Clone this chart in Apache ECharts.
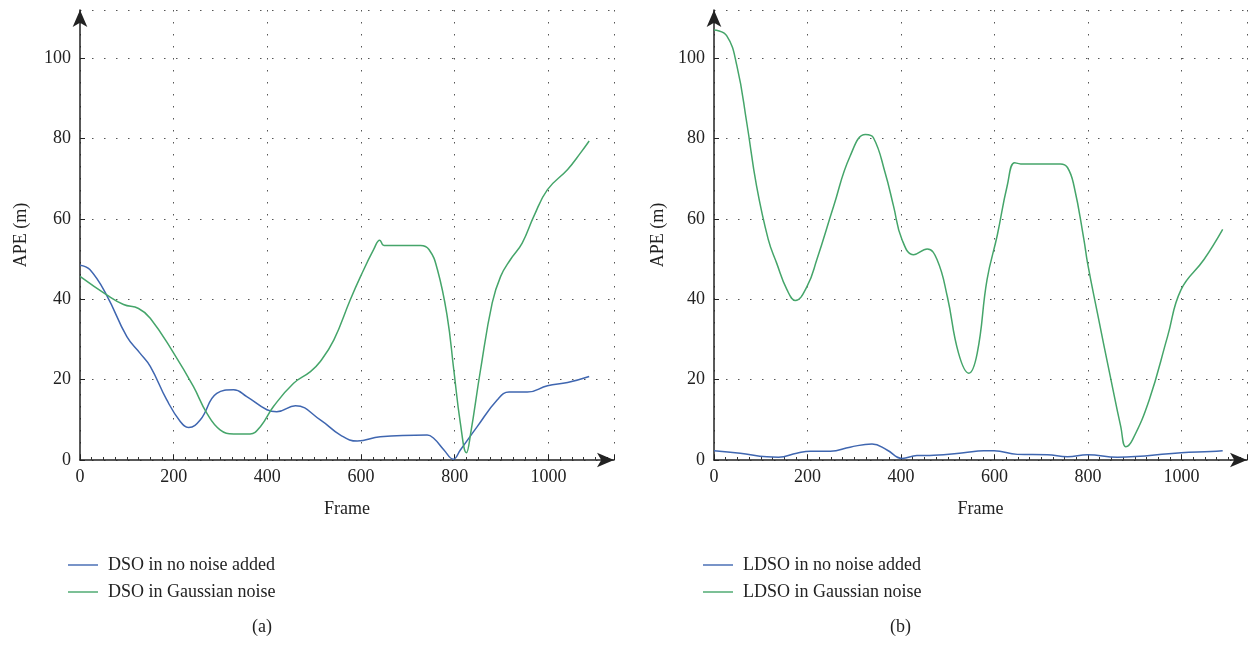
<!DOCTYPE html>
<html>
<head>
<meta charset="utf-8">
<script src="https://cdn.jsdelivr.net/npm/echarts@6/dist/echarts.min.js"></script>
<style>
  html, body { margin: 0; padding: 0; background: #fff; }
  #main { width: 1252px; height: 645px; }
</style>
</head>
<body>
<div id="main"></div>
<script>
// (a) DSO: [frame, APE]
var dsoClean = [[0, 48.5], [21, 47.4], [57, 41], [100, 30.7], [128, 26.6], [150, 23.3], [185, 15], [214, 9.6], [232, 8.1],
    [257, 10], [292, 16.6], [328, 17.5], [356, 15.8], [399, 12.5], [420, 12], [460, 13.5], [513, 10], [556, 6.2],
    [592, 4.7], [641, 5.8], [741, 6.2], [755, 5.4], [777, 2.5], [797, 0.2], [812, 2.5], [848, 8.3], [891, 15],
    [916, 16.9], [955, 16.9], [998, 18.5], [1041, 19.3], [1087, 20.8]];
var dsoNoise = [[0, 45.7], [57, 41.1], [93, 38.7], [125, 37.7], [150, 35.3], [200, 26.6], [242, 18.3], [271, 11.6],
    [299, 7.5], [328, 6.5], [363, 6.5], [385, 8.3], [413, 13.3], [456, 19.1], [492, 22], [513, 24.5], [542, 29.9],
    [577, 39.9], [599, 45.7], [627, 52.4], [640, 54.7], [649, 53.4], [727, 53.4], [745, 52.4], [763, 47.4],
    [784, 35.7], [798, 22.4], [812, 9.2], [825, 1.8], [834, 6.6], [855, 22.4], [880, 39.1], [898, 45.7],
    [919, 49.9], [944, 54], [969, 60.7], [998, 67.3], [1041, 72.3], [1069, 76.5], [1087, 79.4]];

// (b) LDSO
var ldsoClean = [[0, 2.3], [56, 1.7], [113, 0.8], [138, 0.7], [177, 1.7], [206, 2.2], [249, 2.2], [291, 3.2],
    [338, 4], [370, 2.5], [402, 0.4], [434, 1.1], [470, 1.2], [534, 1.8], [577, 2.3], [599, 2.3], [649, 1.4],
    [713, 1.3], [756, 0.8], [799, 1.3], [863, 0.7], [999, 1.8], [1063, 2.1], [1088, 2.3]];
var ldsoNoise = [[0, 107], [27, 105.6], [49, 98.1], [70, 84], [91, 68.2], [116, 54.9], [134, 49], [156, 42.4],
    [174, 39.7], [199, 43.2], [220, 49.9], [256, 63.2], [291, 75.6], [324, 81], [341, 80.2], [366, 71.5],
    [384, 63.2], [402, 54.9], [427, 51.1], [456, 52.5], [477, 49.9], [499, 40.7], [523, 26.6], [545, 21.6],
    [563, 26.6], [584, 44.9], [606, 56], [627, 68.2], [643, 74], [656, 73.7], [741, 73.7], [756, 72.8],
    [770, 68.2], [791, 55], [799, 49], [820, 36.6], [849, 20], [870, 8.3], [881, 3.3], [895, 5], [931, 15],
    [970, 30.7], [999, 42.4], [1048, 49.9], [1088, 57.4]];

var namesA = ['DSO in no noise added', 'DSO in Gaussian noise'];
var namesB = ['LDSO in no noise added', 'LDSO in Gaussian noise'];
var blue = '#3f66b0';
var green = '#45a56a';
var serif = 'Liberation Serif';

function xAxisOpt(idx) {
    return {
        type: 'value', gridIndex: idx, min: 0, max: 1140, interval: 200,
        name: 'Frame', nameLocation: 'middle', nameGap: 40,
        nameTextStyle: { fontFamily: serif, fontSize: 18, color: '#222' },
        axisLine: { symbol: ['none', 'arrow'], symbolSize: [11, 17], lineStyle: { color: '#222', width: 1.5 } },
        axisTick: { inside: true, length: 5, lineStyle: { color: '#222' } },
        minorTick: { show: true, splitNumber: 8, length: 3, lineStyle: { color: '#333' } },
        axisLabel: {
            showMaxLabel: false, margin: 8, fontFamily: serif, fontSize: 18, color: '#222',
            formatter: function (v) { return String(v); }
        },
        splitLine: { show: true, lineStyle: { type: [1.5, 10.5], color: '#555', width: 1 } }
    };
}

function yAxisOpt(idx, gap) {
    return {
        type: 'value', gridIndex: idx, min: 0, max: 112, interval: 20,
        name: 'APE (m)', nameLocation: 'middle', nameGap: gap,
        nameTextStyle: { fontFamily: serif, fontSize: 18, color: '#222' },
        axisLine: { show: true, symbol: ['none', 'arrow'], symbolSize: [11, 17], lineStyle: { color: '#222', width: 1.5 } },
        axisTick: { show: true, inside: true, length: 5, lineStyle: { color: '#222' } },
        axisLabel: { showMaxLabel: false, margin: 9, fontFamily: serif, fontSize: 18, color: '#222' },
        splitLine: { show: true, lineStyle: { type: [1.5, 10.5], color: '#555', width: 1 } }
    };
}

function lineSeries(name, data, color, idx) {
    return {
        name: name, type: 'line', data: data, xAxisIndex: idx, yAxisIndex: idx,
        showSymbol: false, symbol: 'none', smooth: 0.45,
        lineStyle: { color: color, width: 1.5 }, itemStyle: { color: color }
    };
}

function legendOpt(left, names) {
    return {
        orient: 'vertical', left: left, top: 551, itemGap: 9,
        itemWidth: 30, itemHeight: 2, icon: 'rect',
        textStyle: { fontFamily: serif, fontSize: 18, color: '#222', padding: [0, 0, 0, 5] },
        data: names.map(function (n) { return { name: n, itemStyle: { opacity: 0.7 } }; })
    };
}

var chart = echarts.init(document.getElementById('main'));
chart.setOption({
    backgroundColor: '#fff',
    animation: false,
    grid: [
        { left: 80, top: 10, width: 534, height: 450 },
        { left: 714, top: 10, width: 533, height: 450 }
    ],
    xAxis: [xAxisOpt(0), xAxisOpt(1)],
    yAxis: [yAxisOpt(0, 50), yAxisOpt(1, 47)],
    legend: [legendOpt(63, namesA), legendOpt(698, namesB)],
    series: [
        lineSeries(namesA[0], dsoClean, blue, 0),
        lineSeries(namesA[1], dsoNoise, green, 0),
        lineSeries(namesB[0], ldsoClean, blue, 1),
        lineSeries(namesB[1], ldsoNoise, green, 1)
    ],
    graphic: [
        { type: 'text', left: 252, top: 618, style: { text: '(a)', font: '18px "Liberation Serif"', fill: '#222' } },
        { type: 'text', left: 890, top: 618, style: { text: '(b)', font: '18px "Liberation Serif"', fill: '#222' } }
    ]
});
</script>
</body>
</html>
